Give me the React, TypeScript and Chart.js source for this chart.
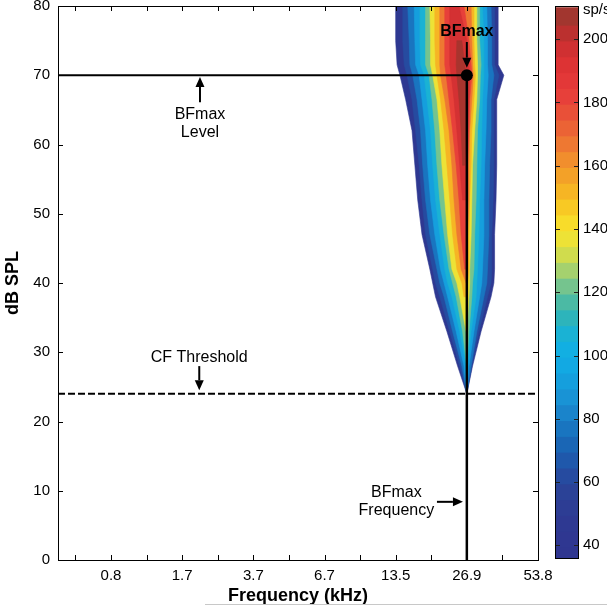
import React, { useEffect, useRef } from 'react';
import { Chart, registerables } from 'chart.js';

Chart.register(...registerables);

// ---------------- data ----------------
// x values are octaves relative to BFmax frequency (26.9 kHz)
const FREQ_TICK_OCT = [-5, -4, -3, -2, -1, 0, 1];
const FREQ_TICK_LABELS = ['0.8', '1.7', '3.7', '6.7', '13.5', '26.9', '53.8'];
const FREQ_MINOR_OCT = [-5.5, -4.5, -3.5, -2.5, -1.5, -0.5, 0.5];
const LEVEL_TICKS = [0, 10, 20, 30, 40, 50, 60, 70, 80];
const RATE_TICKS = [40, 60, 80, 100, 120, 140, 160, 180, 200];

const X_MIN = -5.745;
const X_MAX = 1.0;
const RATE_MIN = 36;
const RATE_MAX = 210.5;

const BF_OCT = 0;
const BFMAX_LEVEL_DB = 70;
const CF_THRESHOLD_DB = 24;

// sound levels (dB SPL) at which contour edges were read
const DB_ROWS = [24, 28, 33, 38, 40, 42, 47, 52, 57, 62, 66.5, 70, 71.5, 75, 80];
// firing-rate contour levels (sp/s)
const CONTOUR_LEVELS = [36, 55, 70, 85, 100, 115, 130, 145, 160, 175, 190, 202];
// low-frequency edge of each contour (octaves re BF) per DB_ROWS entry
const CONTOUR_LEFT: (number | null)[][] = [
  [0, -0.13, -0.28, -0.44, -0.48, -0.52, -0.63, -0.69, -0.73, -0.77, -0.86, -0.94, -0.98, -1.0, -1.0],
  [0, -0.1, -0.24, -0.38, -0.44, -0.48, -0.58, -0.63, -0.67, -0.72, -0.77, -0.84, -0.88, -0.9, -0.9],
  [0, -0.07, -0.2, -0.32, -0.38, -0.42, -0.52, -0.58, -0.62, -0.65, -0.7, -0.76, -0.8, -0.81, -0.83],
  [0, -0.04, -0.15, -0.27, -0.32, -0.37, -0.45, -0.51, -0.55, -0.58, -0.63, -0.67, -0.72, -0.73, -0.74],
  [0, -0.01, -0.1, -0.21, -0.27, -0.31, -0.38, -0.44, -0.48, -0.51, -0.56, -0.6, -0.65, -0.66, -0.66],
  [null, 0, -0.06, -0.15, -0.2, -0.25, -0.32, -0.38, -0.42, -0.45, -0.49, -0.53, -0.58, -0.58, -0.58],
  [null, null, -0.01, -0.1, -0.14, -0.21, -0.27, -0.31, -0.35, -0.38, -0.42, -0.48, -0.51, -0.51, -0.52],
  [null, null, null, -0.04, -0.07, -0.14, -0.2, -0.24, -0.28, -0.32, -0.37, -0.42, -0.44, -0.45, -0.45],
  [null, null, null, null, -0.01, -0.08, -0.14, -0.18, -0.21, -0.25, -0.31, -0.37, -0.38, -0.38, -0.38],
  [null, null, null, null, null, -0.03, -0.08, -0.11, -0.15, -0.2, -0.25, -0.29, -0.31, -0.31, -0.31],
  [null, null, null, null, null, null, null, -0.06, -0.1, -0.14, -0.18, -0.22, -0.24, -0.24, -0.24],
  [null, null, null, null, null, null, null, null, -0.06, -0.08, -0.11, -0.14, -0.15, -0.14, null],
];
// high-frequency edge of each contour (octaves re BF)
const CONTOUR_RIGHT: (number | null)[][] = [
  [0, 0.08, 0.2, 0.34, 0.38, 0.39, 0.39, 0.41, 0.42, 0.42, 0.42, 0.52, 0.44, 0.44, 0.44],
  [0, 0.07, 0.17, 0.29, 0.34, 0.35, 0.35, 0.37, 0.38, 0.38, 0.38, 0.45, 0.39, 0.39, 0.39],
  [0, 0.06, 0.14, 0.24, 0.28, 0.29, 0.31, 0.31, 0.32, 0.34, 0.34, 0.38, 0.35, 0.35, 0.34],
  [0, 0.03, 0.1, 0.18, 0.21, 0.22, 0.24, 0.24, 0.25, 0.27, 0.28, 0.3, 0.29, 0.29, 0.28],
  [0, 0.01, 0.06, 0.13, 0.14, 0.15, 0.17, 0.18, 0.2, 0.21, 0.22, 0.24, 0.24, 0.24, 0.22],
  [null, 0, 0.03, 0.07, 0.08, 0.1, 0.11, 0.13, 0.14, 0.15, 0.18, 0.19, 0.2, 0.18, 0.18],
  [null, null, 0, 0.03, 0.04, 0.04, 0.06, 0.07, 0.08, 0.11, 0.14, 0.15, 0.15, 0.14, 0.14],
  [null, null, null, 0, 0.01, 0.03, 0.03, 0.04, 0.06, 0.07, 0.1, 0.12, 0.11, 0.1, 0.1],
  [null, null, null, null, 0, 0.01, 0.01, 0.03, 0.03, 0.04, 0.07, 0.09, 0.08, 0.07, 0.06],
  [null, null, null, null, null, 0, 0, 0.01, 0.01, 0.03, 0.04, 0.07, 0.06, 0.03, -0.04],
  [null, null, null, null, null, null, null, 0, 0, 0.01, 0.03, 0.04, 0.03, 0, -0.11],
  [null, null, null, null, null, null, null, null, -0.03, -0.01, -0.01, -0.01, -0.03, -0.07, null],
];

// colour map anchors (sp/s -> colour)
const COLOR_STOPS: [number, string][] = [
  [36, '#2f3590'], [50, '#2e3a92'], [58, '#2b4297'], [64, '#244ea3'], [70, '#1c5fb0'],
  [76, '#1870bd'], [82, '#1a82ca'], [88, '#1994d6'], [94, '#14a3df'], [100, '#10ade6'],
  [106, '#15b1dc'], [111, '#25b3c2'], [116, '#40b7aa'], [121, '#66c097'], [126, '#97cd78'],
  [131, '#c5da55'], [136, '#e8e23a'], [141, '#f7e12c'], [146, '#f9cf25'], [151, '#f7bb23'],
  [156, '#f4a626'], [161, '#f2942b'], [166, '#ef7f31'], [171, '#ec6934'], [176, '#ea5537'],
  [181, '#e8433a'], [187, '#e43838'], [193, '#dc3234'], [199, '#cc2f31'], [204, '#b3312e'],
  [210, '#95392f'],
];

// annotations (data coordinates: octaves re BF, dB SPL)
const ANNOTATION_LABELS = [
  { lines: ['BFmax'], oct: 0, db: 76.25, bold: true },
  { lines: ['BFmax', 'Level'], oct: -3.75, db: 64.3, bold: false },
  { lines: ['CF Threshold'], oct: -3.76, db: 29.3, bold: false },
  { lines: ['BFmax', 'Frequency'], oct: -0.99, db: 9.8, bold: false },
];
const ANNOTATION_ARROWS = [
  { from: [0, 74.8], to: [0, 71.1] },
  { from: [-3.75, 66.1], to: [-3.75, 69.75] },
  { from: [-3.76, 28.0], to: [-3.76, 24.5] },
  { from: [-0.42, 8.4], to: [-0.055, 8.4] },
];

// ---------------- helpers ----------------
const FAMILY = "'Liberation Sans', Arial, Helvetica, sans-serif";

function hexToRgb(h: string) {
  const n = parseInt(h.slice(1), 16);
  return [(n >> 16) & 255, (n >> 8) & 255, n & 255];
}
function colorAt(v: number) {
  if (v <= COLOR_STOPS[0][0]) return COLOR_STOPS[0][1];
  for (let i = 1; i < COLOR_STOPS.length; i++) {
    const [v1, c1] = COLOR_STOPS[i];
    if (v <= v1) {
      const [v0, c0] = COLOR_STOPS[i - 1];
      const t = (v - v0) / (v1 - v0);
      const a = hexToRgb(c0), b = hexToRgb(c1);
      const m = a.map((x, k) => Math.round(x + (b[k] - x) * t));
      return `rgb(${m[0]},${m[1]},${m[2]})`;
    }
  }
  return COLOR_STOPS[COLOR_STOPS.length - 1][1];
}

function drawArrow(ctx: CanvasRenderingContext2D, x1: number, y1: number, x2: number, y2: number) {
  const ang = Math.atan2(y2 - y1, x2 - x1);
  const hl = 10, hw = 4.5;
  const bx = x2 - hl * Math.cos(ang), by = y2 - hl * Math.sin(ang);
  ctx.beginPath();
  ctx.moveTo(x1, y1);
  ctx.lineTo(bx, by);
  ctx.lineWidth = 2;
  ctx.stroke();
  ctx.beginPath();
  ctx.moveTo(x2, y2);
  ctx.lineTo(bx - hw * Math.sin(ang), by + hw * Math.cos(ang));
  ctx.lineTo(bx + hw * Math.sin(ang), by - hw * Math.cos(ang));
  ctx.closePath();
  ctx.fill();
}

// ---------------- plugins ----------------
const contourFillPlugin = {
  id: 'contourFill',
  beforeDatasetsDraw(chart: any) {
    const { ctx, chartArea } = chart;
    ctx.save();
    ctx.beginPath();
    ctx.rect(chartArea.left, chartArea.top, chartArea.right - chartArea.left, chartArea.bottom - chartArea.top);
    ctx.clip();
    chart.data.datasets.forEach((ds: any, i: number) => {
      if (!ds.contourColor) return;
      const pts = chart.getDatasetMeta(i).data;
      if (!pts.length) return;
      ctx.beginPath();
      pts.forEach((p: any, j: number) => (j ? ctx.lineTo(p.x, p.y) : ctx.moveTo(p.x, p.y)));
      ctx.closePath();
      ctx.fillStyle = ds.contourColor;
      ctx.fill();
      ctx.strokeStyle = ds.contourColor;
      ctx.lineWidth = 0.6;
      ctx.stroke();
    });
    ctx.restore();
  },
};

const annotationPlugin = {
  id: 'annot',
  afterDatasetsDraw(chart: any) {
    const { ctx, scales: { x, y } } = chart;
    ctx.save();
    ctx.fillStyle = '#000';
    ctx.strokeStyle = '#000';
    ctx.textAlign = 'center';
    ctx.textBaseline = 'middle';
    ANNOTATION_LABELS.forEach((a) => {
      ctx.font = `${a.bold ? 'bold ' : ''}16px ${FAMILY}`;
      const px = x.getPixelForValue(a.oct);
      const py = y.getPixelForValue(a.db);
      a.lines.forEach((t, i) => ctx.fillText(t, px, py + i * 18));
    });
    ANNOTATION_ARROWS.forEach((a) => {
      drawArrow(
        ctx,
        x.getPixelForValue(a.from[0]), y.getPixelForValue(a.from[1]),
        x.getPixelForValue(a.to[0]), y.getPixelForValue(a.to[1])
      );
    });
    ctx.restore();
  },
};

const boxTicksPlugin = {
  id: 'boxTicks',
  afterDraw(chart: any) {
    const { ctx, chartArea: { left, right, top, bottom }, scales: { x, y } } = chart;
    ctx.save();
    ctx.strokeStyle = '#000';
    ctx.lineWidth = 1;
    const L = 5;
    ctx.beginPath();
    x.ticks.forEach((t: any) => {
      const p = Math.round(x.getPixelForValue(t.value)) + 0.5;
      if (p <= left + 1 || p >= right - 1) return;
      ctx.moveTo(p, bottom); ctx.lineTo(p, bottom - L);
      ctx.moveTo(p, top); ctx.lineTo(p, top + L);
    });
    y.ticks.forEach((t: any) => {
      const p = Math.round(y.getPixelForValue(t.value)) + 0.5;
      if (p <= top + 1 || p >= bottom - 1) return;
      ctx.moveTo(left, p); ctx.lineTo(left + L, p);
      ctx.moveTo(right, p); ctx.lineTo(right - L, p);
    });
    ctx.stroke();
    ctx.strokeRect(Math.round(left) + 0.5, Math.round(top) + 0.5, Math.round(right - left), Math.round(bottom - top));
    ctx.restore();
  },
};

const colorbarPlugin = {
  id: 'cbDecor',
  afterDraw(chart: any) {
    const { ctx, chartArea: { left, right, top, bottom }, scales: { y } } = chart;
    ctx.save();
    ctx.strokeStyle = '#222';
    ctx.lineWidth = 1;
    ctx.beginPath();
    y.ticks.forEach((t: any) => {
      const p = Math.round(y.getPixelForValue(t.value)) + 0.5;
      ctx.moveTo(left, p); ctx.lineTo(left + 5, p);
      ctx.moveTo(right, p); ctx.lineTo(right - 5, p);
    });
    ctx.stroke();
    ctx.strokeStyle = '#000';
    ctx.strokeRect(Math.round(left) + 0.5, Math.round(top) + 0.5, Math.round(right - left) - 1, Math.round(bottom - top));
    ctx.fillStyle = '#000';
    ctx.font = `15px ${FAMILY}`;
    ctx.textAlign = 'left';
    ctx.textBaseline = 'middle';
    ctx.fillText('sp/s', right + 4, top + 4);
    ctx.restore();
  },
};

// ---------------- configs ----------------
function buildContourDatasets() {
  return CONTOUR_LEVELS.map((lvl, k) => {
    const left = CONTOUR_LEFT[k];
    const right = CONTOUR_RIGHT[k];
    const pts: { x: number; y: number }[] = [];
    DB_ROWS.forEach((db, r) => {
      const v = left[r];
      if (v !== null) pts.push({ x: BF_OCT + v, y: db });
    });
    for (let r = DB_ROWS.length - 1; r >= 0; r--) {
      const v = right[r];
      if (v !== null) pts.push({ x: BF_OCT + v, y: DB_ROWS[r] });
    }
    const next = k + 1 < CONTOUR_LEVELS.length ? CONTOUR_LEVELS[k + 1] : RATE_MAX;
    return {
      data: pts,
      contourColor: colorAt((lvl + next) / 2),
      showLine: false,
      pointRadius: 0,
      pointHoverRadius: 0,
    };
  });
}

function mainConfig(): any {
  const lineDatasets = [
    {
      data: [{ x: X_MIN, y: BFMAX_LEVEL_DB }, { x: BF_OCT, y: BFMAX_LEVEL_DB }],
      showLine: true, borderColor: '#000', borderWidth: 2.2, pointRadius: 0,
    },
    {
      data: [{ x: BF_OCT, y: 0 }, { x: BF_OCT, y: BFMAX_LEVEL_DB }],
      showLine: true, borderColor: '#000', borderWidth: 2.5, pointRadius: 0,
    },
    {
      data: [{ x: X_MIN, y: CF_THRESHOLD_DB }, { x: X_MAX, y: CF_THRESHOLD_DB }],
      showLine: true, borderColor: '#000', borderWidth: 2, borderDash: [7, 3], pointRadius: 0,
    },
    {
      data: [{ x: BF_OCT, y: BFMAX_LEVEL_DB }],
      showLine: false, pointRadius: 6, pointBackgroundColor: '#000', pointBorderWidth: 0,
    },
  ];
  return {
    type: 'scatter',
    data: { datasets: [...buildContourDatasets(), ...lineDatasets] },
    options: {
      animation: false,
      responsive: false,
      events: [],
      layout: { padding: { left: 0, right: 69, top: 6, bottom: 0 } },
      plugins: { legend: { display: false }, tooltip: { enabled: false } },
      scales: {
        x: {
          type: 'linear',
          min: X_MIN,
          max: X_MAX,
          afterBuildTicks: (s: any) => {
            s.ticks = [...FREQ_MINOR_OCT, ...FREQ_TICK_OCT].sort((a, b) => a - b).map((v) => ({ value: v }));
          },
          ticks: {
            autoSkip: false,
            maxRotation: 0,
            padding: 7,
            color: '#000',
            font: { family: FAMILY, size: 15 },
            callback: (v: number) => {
              const i = FREQ_TICK_OCT.indexOf(v);
              return i >= 0 ? FREQ_TICK_LABELS[i] : '';
            },
          },
          grid: { display: false, drawTicks: false },
          border: { display: false },
          title: {
            display: true,
            text: 'Frequency (kHz)',
            color: '#000',
            font: { family: FAMILY, size: 18, weight: 'bold' },
            padding: { top: 0, bottom: 0 },
          },
          afterFit: (s: any) => { s.height = 47; },
        },
        y: {
          type: 'linear',
          min: 0,
          max: 80,
          afterBuildTicks: (s: any) => { s.ticks = LEVEL_TICKS.map((v) => ({ value: v })); },
          ticks: { padding: 0, color: '#000', font: { family: FAMILY, size: 15, lineHeight: 0.8 } },
          grid: { display: true, drawOnChartArea: false, drawTicks: true, tickLength: 8, tickColor: 'rgba(0,0,0,0)' },
          border: { display: false },
          title: {
            display: true,
            text: 'dB SPL',
            color: '#000',
            font: { family: FAMILY, size: 18, weight: 'bold' },
            padding: { top: 2, bottom: 0 },
          },
          afterFit: (s: any) => { s.width = 58; },
        },
      },
    },
    plugins: [contourFillPlugin, annotationPlugin, boxTicksPlugin],
  };
}

function cbConfig(): any {
  const bands: any[] = [];
  for (let v = 205; v >= 35; v -= 5) {
    bands.push({
      data: [[v - 0.6, v + 5]],
      backgroundColor: colorAt(v + 2.5),
      borderWidth: 0,
      grouped: false,
      categoryPercentage: 1,
      barPercentage: 1,
    });
  }
  return {
    type: 'bar',
    data: { labels: [''], datasets: bands },
    options: {
      animation: false,
      responsive: false,
      events: [],
      layout: { padding: { left: 5, right: 0, top: 6, bottom: 49 } },
      plugins: { legend: { display: false }, tooltip: { enabled: false } },
      scales: {
        x: { display: false },
        y: {
          position: 'right',
          min: RATE_MIN,
          max: RATE_MAX,
          afterBuildTicks: (s: any) => { s.ticks = RATE_TICKS.map((v) => ({ value: v })); },
          ticks: { padding: 0, color: '#000', font: { family: FAMILY, size: 15, lineHeight: 0.8 } },
          grid: { display: true, drawOnChartArea: false, drawTicks: true, tickLength: 4, tickColor: 'rgba(0,0,0,0)' },
          border: { display: false },
          afterFit: (s: any) => { s.width = 28; },
        },
      },
    },
    plugins: [colorbarPlugin],
  };
}

export default function App() {
  const mainRef = useRef<HTMLCanvasElement>(null);
  const cbRef = useRef<HTMLCanvasElement>(null);
  useEffect(() => {
    const main = new Chart(mainRef.current as HTMLCanvasElement, mainConfig());
    const cb = new Chart(cbRef.current as HTMLCanvasElement, cbConfig());
    return () => {
      main.destroy();
      cb.destroy();
    };
  }, []);
  return (
    <div style={{ position: 'fixed', left: 0, top: 0, width: 607, height: 607, background: '#fff', overflow: 'hidden' }}>
      <canvas ref={mainRef} width={607} height={607} style={{ position: 'absolute', left: 0, top: 0 }} />
      <canvas ref={cbRef} width={57} height={607} style={{ position: 'absolute', left: 550, top: 0 }} />
      <div style={{ position: 'absolute', left: 205, top: 604, width: 402, height: 1, background: '#c8c8c8' }} />
    </div>
  );
}
